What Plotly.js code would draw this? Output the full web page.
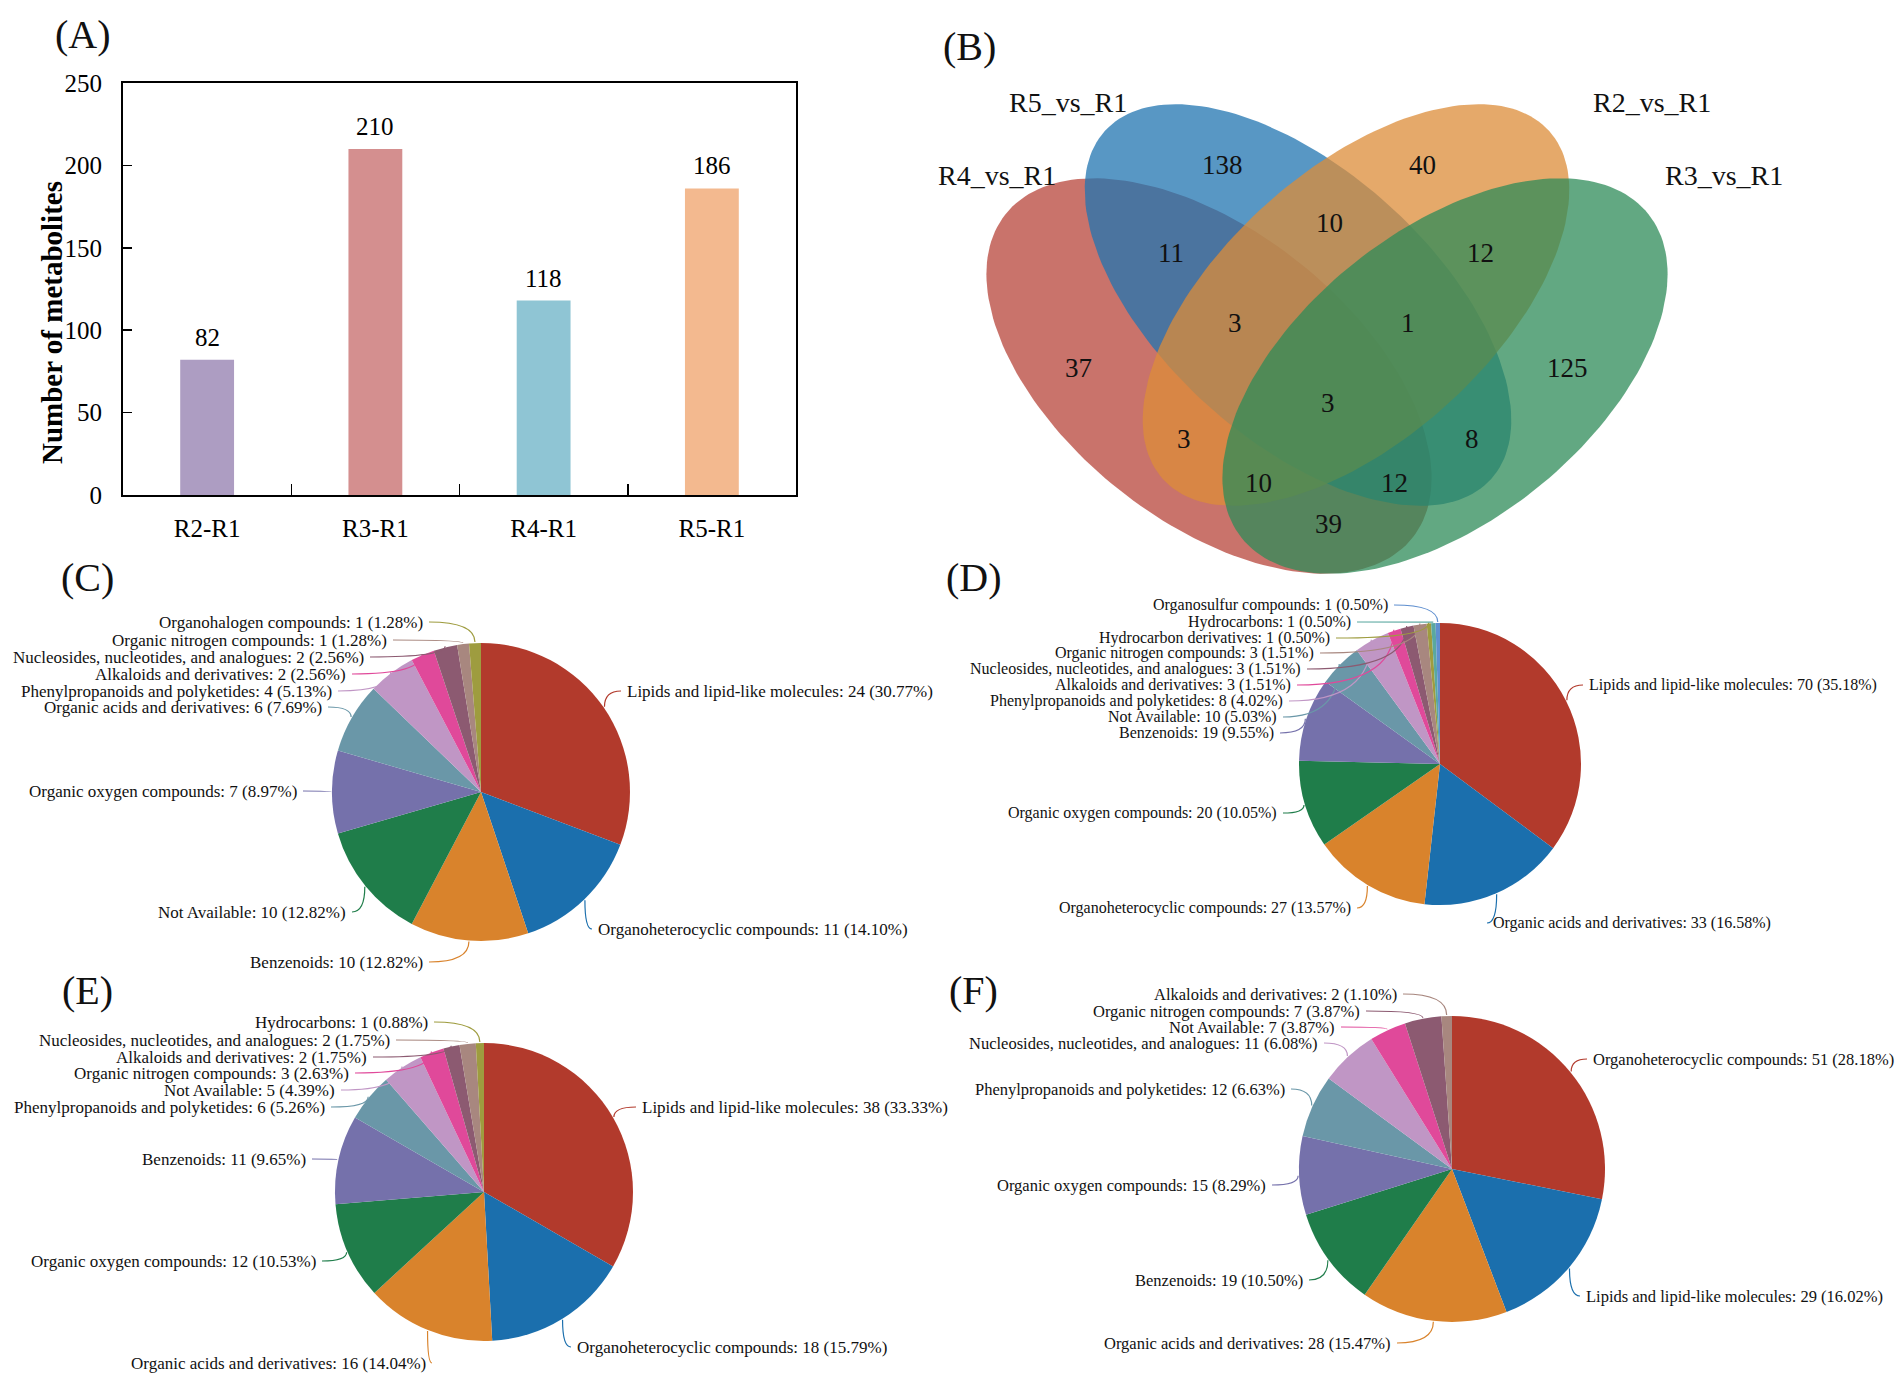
<!DOCTYPE html>
<html><head><meta charset="utf-8">
<script src="https://cdn.plot.ly/plotly-3.0.1.min.js"></script>
<style>html,body{margin:0;padding:0;background:#fff;}#chart{width:1902px;height:1382px;}</style>
</head><body><div id="chart"></div>
<script>
// ---------------- DATA ----------------
const barCategories = ['R2-R1', 'R3-R1', 'R4-R1', 'R5-R1'];
const barValues = [82, 210, 118, 186];
const yTickValues = [0, 50, 100, 150, 200, 250];

const vennSetNames = ['R4_vs_R1', 'R5_vs_R1', 'R2_vs_R1', 'R3_vs_R1'];
const vennRegionCounts = [138, 40, 11, 10, 12, 37, 3, 1, 125, 3, 3, 8, 10, 12, 39];

const pieCLabels = ['Lipids and lipid-like molecules', 'Organoheterocyclic compounds', 'Benzenoids', 'Not Available',
  'Organic oxygen compounds', 'Organic acids and derivatives', 'Phenylpropanoids and polyketides',
  'Alkaloids and derivatives', 'Nucleosides, nucleotides, and analogues', 'Organic nitrogen compounds', 'Organohalogen compounds'];
const pieCValues = [24, 11, 10, 10, 7, 6, 4, 2, 2, 1, 1];

const pieDLabels = ['Lipids and lipid-like molecules', 'Organic acids and derivatives', 'Organoheterocyclic compounds',
  'Organic oxygen compounds', 'Benzenoids', 'Not Available', 'Phenylpropanoids and polyketides', 'Alkaloids and derivatives',
  'Nucleosides, nucleotides, and analogues', 'Organic nitrogen compounds', 'Hydrocarbon derivatives', 'Hydrocarbons', 'Organosulfur compounds'];
const pieDValues = [70, 33, 27, 20, 19, 10, 8, 3, 3, 3, 1, 1, 1];

const pieELabels = ['Lipids and lipid-like molecules', 'Organoheterocyclic compounds', 'Organic acids and derivatives',
  'Organic oxygen compounds', 'Benzenoids', 'Phenylpropanoids and polyketides', 'Not Available', 'Organic nitrogen compounds',
  'Alkaloids and derivatives', 'Nucleosides, nucleotides, and analogues', 'Hydrocarbons'];
const pieEValues = [38, 18, 16, 12, 11, 6, 5, 3, 2, 2, 1];

const pieFLabels = ['Organoheterocyclic compounds', 'Lipids and lipid-like molecules', 'Organic acids and derivatives',
  'Benzenoids', 'Organic oxygen compounds', 'Phenylpropanoids and polyketides', 'Nucleosides, nucleotides, and analogues',
  'Not Available', 'Organic nitrogen compounds', 'Alkaloids and derivatives'];
const pieFValues = [51, 29, 28, 19, 15, 12, 11, 7, 7, 2];

// ---------------- LAYOUT / STYLE ----------------
const W = 1902, H = 1382;
const FONT = 'Liberation Serif, Times New Roman, serif';
const barColors = ['#ad9dc2', '#d48f8f', '#8fc5d4', '#f3b98f'];
const sliceColors = ['#b23a2c', '#1b6fad', '#d9832c', '#1f7d4a', '#7571ab', '#6a97a8', '#c096c5',
  '#e0499a', '#8c5a71', '#a8877f', '#9e9c3f', '#5aa8a0', '#5f8fcf'];

// Venn ellipse geometry (pixel space): cx, cy, semi-major, semi-minor, rotation (deg, screen coords)
const vennEllipses = [
  {cx: 1209, cy: 376, a: 260, b: 145, rot: 38.5, color: 'rgba(183,68,58,0.75)'},   // R4
  {cx: 1298, cy: 305, a: 260, b: 135, rot: 42, color: 'rgba(32,116,176,0.75)'},    // R5
  {cx: 1356, cy: 305, a: 260, b: 135, rot: -42, color: 'rgba(220,140,56,0.75)'},   // R2
  {cx: 1445, cy: 376, a: 260, b: 145, rot: -38.5, color: 'rgba(46,139,88,0.75)'}   // R3
];
const vennNamePos = [[997, 175], [1068, 102], [1652, 102], [1724, 175]];
const vennCountPos = [[1222, 165], [1422, 165], [1171, 253], [1329, 223], [1480, 253], [1078, 368], [1235, 323],
  [1408, 323], [1567, 368], [1328, 403], [1184, 439], [1472, 439], [1258, 483], [1394, 483], [1328, 524]];

// pie geometry and label anchor positions [x, y, side] (side 1: label right of anchor, -1: left of anchor)
const pies = [
  {labels: pieCLabels, values: pieCValues, cx: 481, cy: 792, r: 149, fs: 17,
   pos: [[626, 691, 1], [597, 929, 1], [424, 962, -1], [347, 912, -1], [298, 791, -1], [323, 707, -1], [333, 691, -1],
         [347, 674, -1], [365, 657, -1], [388, 640, -1], [424, 622, -1]]},
  {labels: pieDLabels, values: pieDValues, cx: 1440, cy: 764, r: 141, fs: 16,
   pos: [[1588, 685, 1], [1492, 923, 1], [1352, 908, -1], [1278, 813, -1], [1275, 733, -1], [1278, 717, -1], [1284, 701, -1],
         [1292, 685, -1], [1302, 669, -1], [1315, 653, -1], [1331, 638, -1], [1352, 622, -1], [1389, 605, -1]]},
  {labels: pieELabels, values: pieEValues, cx: 484, cy: 1192, r: 149, fs: 17,
   pos: [[641, 1107, 1], [576, 1347, 1], [427, 1363, -1], [317, 1261, -1], [307, 1159, -1], [326, 1107, -1], [336, 1090, -1],
         [350, 1073, -1], [368, 1057, -1], [391, 1040, -1], [429, 1022, -1]]},
  {labels: pieFLabels, values: pieFValues, cx: 1452, cy: 1169, r: 153, fs: 16.5,
   pos: [[1592, 1059, 1], [1585, 1296, 1], [1392, 1343, -1], [1304, 1280, -1], [1267, 1185, -1], [1286, 1089, -1],
         [1319, 1043, -1], [1336, 1027, -1], [1361, 1011, -1], [1398, 994, -1]]}
];
const panelLetters = [['(A)', 83, 34], ['(B)', 969, 46], ['(C)', 87, 577], ['(D)', 974, 577], ['(E)', 87, 990], ['(F)', 973, 990]];

// ---------------- BUILD ----------------
const traces = [];
const annotations = [];
const shapes = [];

// Panel A bars
traces.push({
  type: 'bar', x: barCategories, y: barValues, width: 0.32,
  marker: {color: barColors}, xaxis: 'x', yaxis: 'y', showlegend: false, hoverinfo: 'x+y'
});
barCategories.forEach((c, i) => {
  annotations.push({xref: 'x', yref: 'y', x: c, y: barValues[i], text: String(barValues[i]), showarrow: false,
    yanchor: 'bottom', yshift: 7, font: {family: FONT, size: 25, color: '#000'}});
});
annotations.push({xref: 'x3', yref: 'y3', x: 52, y: 323, text: '<b>Number of metabolites</b>', textangle: -90,
  showarrow: false, font: {family: FONT, size: 29, color: '#000'}});

// Panel B Venn
vennEllipses.forEach((e, k) => {
  const xs = [], ys = [];
  const t = e.rot * Math.PI / 180;
  for (let i = 0; i <= 180; i++) {
    const p = 2 * Math.PI * i / 180;
    const u = e.a * Math.cos(p), v = e.b * Math.sin(p);
    xs.push(e.cx + u * Math.cos(t) - v * Math.sin(t));
    ys.push(e.cy + u * Math.sin(t) + v * Math.cos(t));
  }
  traces.push({type: 'scatter', mode: 'lines', x: xs, y: ys, fill: 'toself', fillcolor: e.color,
    line: {width: 0, color: e.color}, xaxis: 'x3', yaxis: 'y3', showlegend: false, hoverinfo: 'text', text: vennSetNames[k]});
});
vennSetNames.forEach((n, i) => {
  annotations.push({xref: 'x3', yref: 'y3', x: vennNamePos[i][0], y: vennNamePos[i][1], text: n, showarrow: false,
    font: {family: FONT, size: 28, color: '#111'}});
});
vennRegionCounts.forEach((v, i) => {
  annotations.push({xref: 'x3', yref: 'y3', x: vennCountPos[i][0], y: vennCountPos[i][1], text: String(v), showarrow: false,
    font: {family: FONT, size: 27, color: '#111'}});
});

// Pies
pies.forEach(pd => {
  const n = pd.values.length;
  const total = pd.values.reduce((s, v) => s + v, 0);
  traces.push({
    type: 'pie', labels: pd.labels, values: pd.values, sort: false, direction: 'clockwise', rotation: 0,
    textinfo: 'none', hoverinfo: 'label+value+percent', showlegend: false,
    marker: {colors: sliceColors.slice(0, n), line: {width: 0}},
    domain: {x: [(pd.cx - pd.r) / W, (pd.cx + pd.r) / W], y: [1 - (pd.cy + pd.r) / H, 1 - (pd.cy - pd.r) / H]}
  });
  let cum = 0;
  pd.values.forEach((v, i) => {
    const th = 2 * Math.PI * (cum + v / 2) / total;
    cum += v;
    const ex = pd.cx + (pd.r + 1) * Math.sin(th), ey = pd.cy - (pd.r + 1) * Math.cos(th);
    const [lx, ly, side] = pd.pos[i];
    const pct = (v / total * 100).toFixed(2);
    annotations.push({xref: 'x3', yref: 'y3', x: lx, y: ly, text: pd.labels[i] + ': ' + v + ' (' + pct + '%)',
      showarrow: false, xanchor: side === 1 ? 'left' : 'right', yanchor: 'middle', borderpad: 0,
      font: {family: FONT, size: pd.fs, color: '#111'}});
    const sx = lx - side * 5;
    shapes.push({type: 'path', xref: 'x3', yref: 'y3',
      path: `M${sx},${ly} Q${ex},${ly} ${ex},${ey}`,
      line: {color: sliceColors[i], width: 1.2}});
  });
});

// Panel letters
panelLetters.forEach(p => {
  annotations.push({xref: 'x3', yref: 'y3', x: p[1], y: p[2], text: p[0], showarrow: false,
    font: {family: FONT, size: 40, color: '#111'}});
});

const layout = {
  width: W, height: H, margin: {l: 0, r: 0, t: 0, b: 0, pad: 0},
  paper_bgcolor: '#ffffff', plot_bgcolor: 'rgba(0,0,0,0)', showlegend: false,
  font: {family: FONT, color: '#000'},
  xaxis: {domain: [123 / W, 796 / W], type: 'category', range: [-0.5, 3.5], showline: true, mirror: true,
    linecolor: '#000', linewidth: 2, ticks: 'inside', tickson: 'boundaries', ticklen: 11, tickwidth: 1.5, tickcolor: '#000',
    showgrid: false, zeroline: false, tickfont: {family: FONT, size: 25, color: '#000'}, ticklabelstandoff: 10, fixedrange: true},
  yaxis: {domain: [1 - 495 / H, 1 - 83 / H], range: [0, 250], tickvals: yTickValues, showline: true, mirror: true,
    linecolor: '#000', linewidth: 2, ticks: 'inside', ticklen: 9, tickwidth: 1.5, tickcolor: '#000',
    showgrid: false, zeroline: false, tickfont: {family: FONT, size: 25, color: '#000'}, ticklabelstandoff: 14, fixedrange: true},
  xaxis3: {domain: [0, 1], range: [0, W], visible: false, anchor: 'y3', fixedrange: true},
  yaxis3: {domain: [0, 1], range: [H, 0], visible: false, anchor: 'x3', fixedrange: true},
  annotations: annotations, shapes: shapes
};

Plotly.newPlot('chart', traces, layout, {displayModeBar: false, staticPlot: true});
</script>
</body></html>
